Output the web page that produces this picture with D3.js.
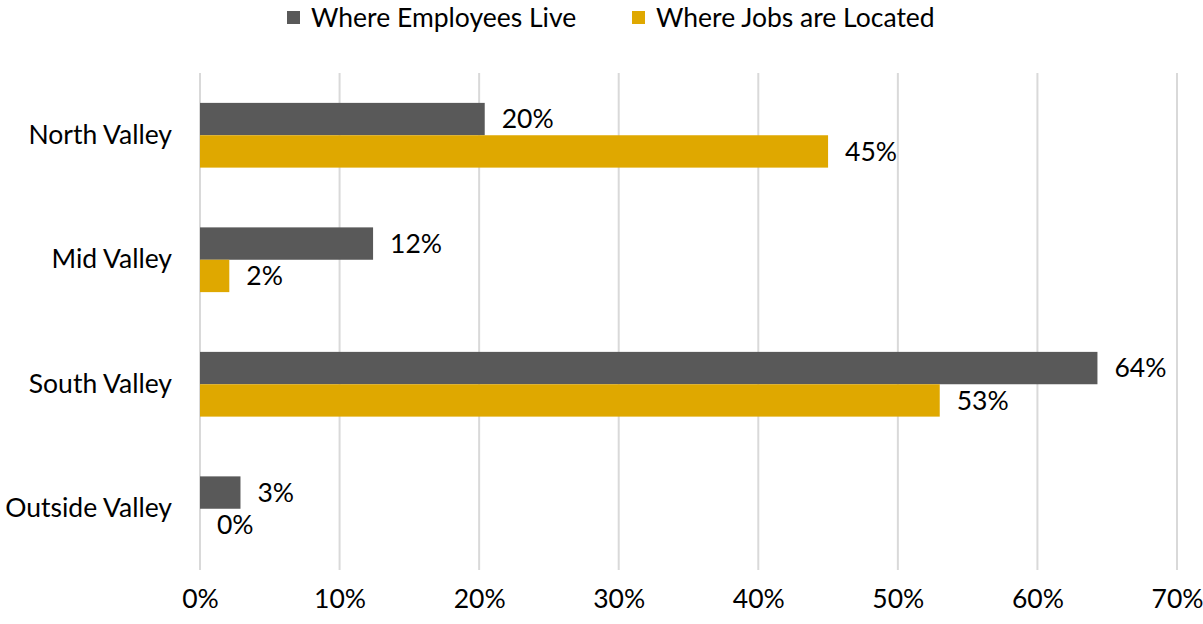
<!DOCTYPE html>
<html>
<head>
<meta charset="utf-8">
<script src="https://cdn.jsdelivr.net/npm/d3@7"></script>
<style>
  html, body { margin: 0; padding: 0; background: #fff; }
  svg text { font-family: Lato, "Open Sans", sans-serif; fill: #000; }
</style>
</head>
<body>
<svg id="chart" width="1203" height="624"></svg>
<script>
// Regions and the share of each series
const regions = ["North Valley", "Mid Valley", "South Valley", "Outside Valley"];
const seriesNames = ["Where Employees Live", "Where Jobs are Located"];
const employeesLive = [0.204, 0.124, 0.643, 0.029];
const jobsLocated = [0.450, 0.021, 0.530, 0.000];
const xTicks = [0, 0.1, 0.2, 0.3, 0.4, 0.5, 0.6, 0.7];
const colors = ["#595959", "#DFA800"];

const FS = 26.5;
const svg = d3.select("#chart");
const margin = { left: 200, right: 25, top: 73, bottom: 53 };
const W = 1203, H = 624;

const x = d3.scaleLinear().domain([0, 0.7]).range([margin.left, W - margin.right - 1]);
const y = d3.scaleBand().domain(regions).range([margin.top, H - margin.bottom]).paddingInner(0.48).paddingOuter(0.24);
const ySub = d3.scaleBand().domain(seriesNames).range([0, y.bandwidth()]);

// vertical gridlines
svg.append("g")
  .selectAll("line")
  .data(xTicks)
  .join("line")
  .attr("x1", d => x(d)).attr("x2", d => x(d))
  .attr("y1", margin.top).attr("y2", H - margin.bottom - 1)
  .attr("stroke", "#d9d9d9").attr("stroke-width", 2);

// x axis labels
const xAxis = d3.axisBottom(x).tickValues(xTicks).tickFormat(d3.format(".0%")).tickSize(0).tickPadding(0);
const gx = svg.append("g").attr("transform", `translate(0,${H - 16})`).call(xAxis);
gx.select(".domain").remove();
gx.selectAll("text").attr("font-size", FS).attr("dy", 0).style("font-family", "Lato, sans-serif").attr("fill", "#000");

// y axis labels
const yAxis = d3.axisLeft(y).tickSize(0).tickPadding(28);
const gy = svg.append("g").attr("transform", `translate(${margin.left},0)`).call(yAxis);
gy.select(".domain").remove();
gy.selectAll("text").attr("font-size", FS).style("font-family", "Lato, sans-serif").attr("fill", "#000");

const rows = regions.map((r, i) => ({ region: r, values: [employeesLive[i], jobsLocated[i]] }));

const groups = svg.append("g").selectAll("g")
  .data(rows)
  .join("g")
  .attr("transform", d => `translate(0,${y(d.region)})`);

groups.selectAll("rect")
  .data(d => d.values.map((v, j) => ({ v, s: seriesNames[j], j })))
  .join("rect")
  .attr("x", x(0))
  .attr("y", d => ySub(d.s))
  .attr("width", d => x(d.v) - x(0))
  .attr("height", ySub.bandwidth())
  .attr("fill", d => colors[d.j]);

groups.selectAll("text")
  .data(d => d.values.map((v, j) => ({ v, s: seriesNames[j], j })))
  .join("text")
  .attr("x", d => x(d.v) + 17)
  .attr("y", d => ySub(d.s) + ySub.bandwidth() / 2)
  .attr("dy", "0.35em")
  .attr("font-size", FS)
  .text(d => d3.format(".0%")(d.v));

// legend
const legendItems = [
  { name: seriesNames[0], color: colors[0], x: 287 },
  { name: seriesNames[1], color: colors[1], x: 632 }
];
const lg = svg.append("g").selectAll("g").data(legendItems).join("g")
  .attr("transform", d => `translate(${d.x},11)`);
lg.append("rect").attr("width", 13).attr("height", 13).attr("fill", d => d.color);
lg.append("text").attr("x", 24).attr("y", 6.5).attr("dy", "0.35em").attr("font-size", FS).text(d => d.name);
</script>
</body>
</html>
